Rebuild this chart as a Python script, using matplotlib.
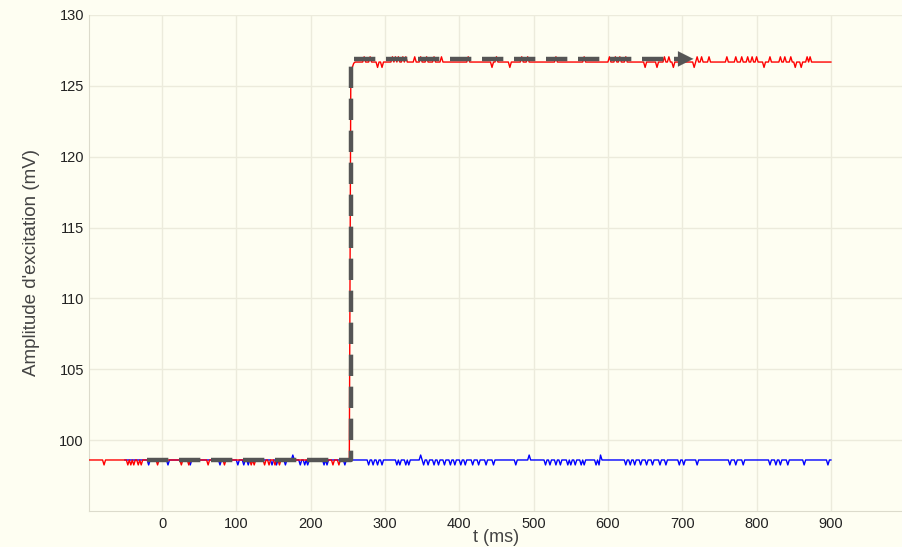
import numpy as np
import matplotlib.pyplot as plt

# Step response: excitation amplitude vs time, with setpoint arrow.

SAMPLE_MS = 2

# red trace (measured excitation)
red_start, red_end = -98, 900
red_low, red_high = 98.6, 126.68
red_step_t = 254
red_rise_t = [254, 256, 258]
red_rise_v = [125.6, 126.3, 126.6]
red_spike_t = [-78, -46, -42, -38, -32, -28, -6, 26, 36, 62, 84, 120, 124, 138, 144,
               152, 158, 230, 238,
               272, 280, 290, 296, 310, 314, 318, 324, 328, 340, 348, 356, 366, 376,
               412, 444, 450, 468, 484, 492, 530, 568, 602, 610, 616, 624, 650, 666,
               676, 682, 688, 716, 720, 726, 736, 760, 772, 780, 788, 794, 800, 810,
               818, 832, 838, 846, 852, 860, 868, 872, 882, 892]
red_spike_v = [98.25] * 19 + [
    127.05, 127.05, 126.3, 126.3, 127.05, 127.05, 127.05, 127.05, 127.05, 127.05,
    127.05, 127.05, 127.05, 127.05, 127.05, 126.3, 127.05, 126.3, 127.05, 127.05,
    127.05, 127.05, 127.05, 127.05, 127.05, 127.05, 126.3, 126.3, 127.05, 127.05,
    126.3, 126.3, 127.05, 127.05, 127.05, 127.05, 127.05, 127.05, 127.05, 127.05,
    127.05, 126.3, 127.05, 127.05, 127.05, 127.05, 126.3, 126.3, 127.05, 127.05]

# blue trace (reference channel)
blue_start, blue_end = -50, 900
blue_low = 98.6
blue_spike_t = [-18, 8, 38, 78, 102, 110, 116, 148, 154, 166, 176, 186, 192, 196,
                218, 222, 246,
                278, 284, 290, 296, 316, 320, 328, 332, 348, 352, 358, 366, 372, 380,
                388, 394, 402, 408, 418, 426, 436, 446, 476, 494, 516, 522, 530, 536,
                546, 550, 556, 564, 568, 584, 588, 590, 624, 630, 636, 644, 652, 660,
                670, 678, 696, 702, 720, 764, 772, 782, 818, 826, 832, 842, 864, 896]
blue_up_t = [176, 348, 494, 590]

# setpoint arrow (dashed)
arrow_t = [-20, 254, 254, 715]
arrow_v = [98.63, 98.63, 126.9, 126.9]


def build_red():
    t = np.arange(red_start, red_end + 1, SAMPLE_MS)
    v = np.where(t < red_step_t, red_low, red_high).astype(float)
    for tt, vv in zip(red_rise_t, red_rise_v):
        v[np.argmin(abs(t - tt))] = vv
    for tt, vv in zip(red_spike_t, red_spike_v):
        v[np.argmin(abs(t - tt))] = vv
    return t, v


def build_blue():
    t = np.arange(blue_start, blue_end + 1, SAMPLE_MS)
    v = np.full(len(t), blue_low)
    for tt in blue_spike_t:
        v[np.argmin(abs(t - tt))] = 98.95 if tt in blue_up_t else 98.25
    return t, v


fig = plt.figure(figsize=(9.03, 5.47), dpi=100)
fig.patch.set_facecolor("#fefef2")
ax = fig.add_axes([0.0991, 0.0658, 0.9009, 0.9068])
ax.set_facecolor("#fefef2")

bt, bv = build_blue()
rt, rv = build_red()
ax.plot(bt, bv, color="#0000ff", lw=1.0, zorder=2)
ax.plot(rt, rv, color="#ff0000", lw=1.0, zorder=3)

ax.plot(arrow_t[:-1] + [arrow_t[-1] - 16], arrow_v, color="#555555", lw=3.2,
        dashes=(4.8, 2.4), zorder=4)
ax.annotate("", xy=(arrow_t[-1], arrow_v[-1]), xytext=(arrow_t[-1] - 22, arrow_v[-1]),
            arrowprops=dict(arrowstyle="-|>,head_length=1.1,head_width=0.55",
                            color="#555555", lw=0.1, shrinkA=0, shrinkB=0), zorder=5)

ax.set_xlim(-97.6, 997)
ax.set_ylim(95, 130)
ax.set_xticks(range(0, 1000, 100))
ax.set_yticks(range(100, 131, 5))
ax.grid(True, color="#ecebdc", lw=1.0)
ax.set_axisbelow(True)
ax.tick_params(length=0, labelsize=10.5, labelcolor="#222222", pad=4)
for lab in ax.get_xticklabels() + ax.get_yticklabels():
    lab.set_family("Liberation Sans")
for side in ["top", "right"]:
    ax.spines[side].set_visible(False)
for side in ["left", "bottom"]:
    ax.spines[side].set_color("#dcdbcc")

ax.set_xlabel("t (ms)", fontsize=13, color="#444444", family="Liberation Sans",
              labelpad=-1)
ax.set_ylabel("Amplitude d'excitation (mV)", fontsize=13.5, color="#444444",
              family="Liberation Sans", labelpad=14)

fig.savefig("out.png", dpi=100, facecolor=fig.get_facecolor())
